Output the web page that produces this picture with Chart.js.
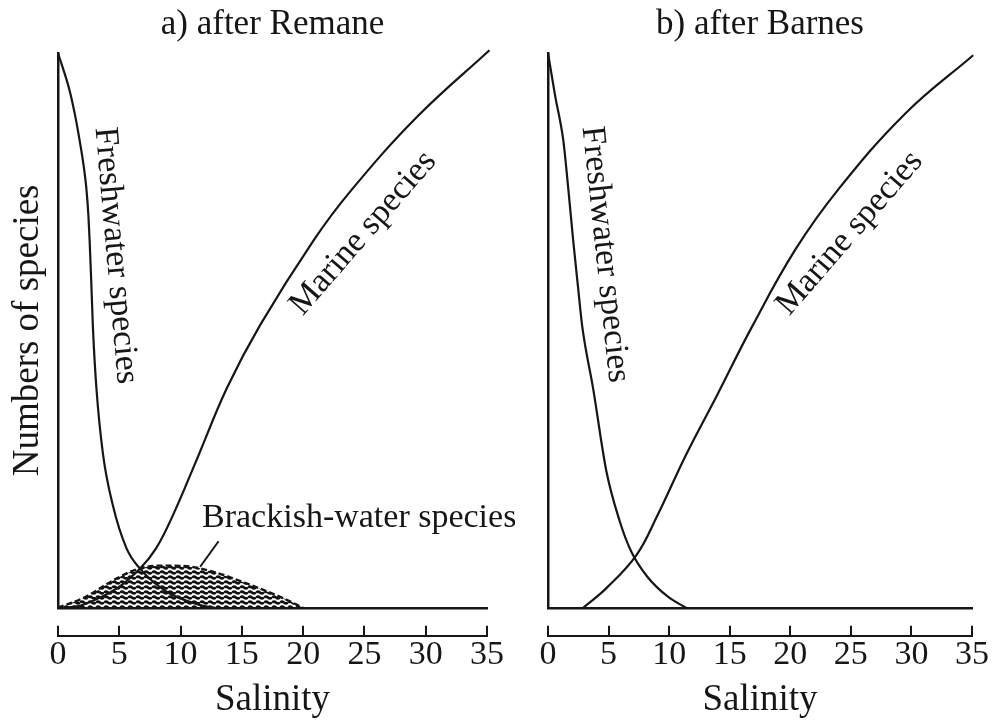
<!DOCTYPE html>
<html>
<head>
<meta charset="utf-8">
<script src="https://cdn.jsdelivr.net/npm/chart.js@4"></script>
<style>
  body { margin: 0; background: #fff; }
  #wrap { position: relative; width: 998px; height: 725px; }
  canvas { position: absolute; top: 0; }
  #chartA { left: 0; }
  #chartB { left: 490px; }
</style>
</head>
<body>
<div id="wrap">
  <canvas id="chartA" width="515" height="725"></canvas>
  <canvas id="chartB" width="508" height="725"></canvas>
</div>
<script>
// salinity axis
const salinityMin = 0;
const salinityMax = 35;
const salinityStep = 5;

// a) after Remane
const freshAX = [0, 0.94, 1.39, 1.76, 2.09, 2.33, 2.48, 2.58, 2.71, 2.85, 3.13, 3.67, 4.46, 5.59, 6.67, 8.86, 11.6, 12.8];
const freshAY = [100, 93.3, 88.8, 84.3, 79.7, 75.2, 70.7, 66.2, 59.0, 50.5, 39.7, 27.7, 18.6, 10.7, 7.1, 2.9, 0.5, 0];
const marineAX = [0.5, 2.0, 4.8, 6.7, 8.0, 9.4, 11.26, 13.8, 16.5, 20.84, 23.9, 29.3, 35.2];
const marineAY = [0, 0.5, 3.5, 7.1, 10.7, 16.8, 26.4, 39.7, 51, 66.2, 75.2, 88.5, 100.5];
const brackAX = [0, 2.0, 4.8, 6.5, 8.5, 10.5, 12.5, 15.5, 18.4, 20];
const brackAY = [0, 1.7, 5.3, 7.0, 7.6, 7.5, 6.6, 4.3, 1.7, 0];
const leaderAX = [11.6, 13.1];
const leaderAY = [7.4, 12.0];

// b) after Barnes
const freshBX = [0, 0.58, 1.26, 1.69, 2.08, 2.47, 2.84, 3.72, 4.82, 5.92, 6.88, 8.2, 9.9, 11.4];
const freshBY = [100, 92.4, 84.3, 75.2, 66.2, 58.0, 50.5, 39.6, 24.6, 15.6, 10.1, 5.6, 2.0, 0];
const marineBX = [2.9, 4.8, 7.3, 9.0, 11.4, 14.0, 16.8, 20.4, 24.0, 29.5, 35.1];
const marineBY = [0, 3.5, 9.5, 16.5, 27.6, 38.5, 50.5, 64.5, 75.5, 89.1, 99.6];

const INK = '#161616';
const SERIF = '"Liberation Serif", "Times New Roman", serif';
Chart.defaults.font.family = SERIF;
Chart.defaults.color = INK;

const pts = (xs, ys) => xs.map((v, i) => ({ x: v, y: ys[i] }));

// wavy hatch for the brackish-water area
function wavePattern(ctx) {
  const t = document.createElement('canvas');
  t.width = 8; t.height = 5;
  const c = t.getContext('2d');
  c.fillStyle = '#fff';
  c.fillRect(0, 0, 8, 5);
  c.strokeStyle = '#111';
  c.lineWidth = 2.5;
  c.beginPath();
  c.moveTo(0, 2.5);
  c.quadraticCurveTo(2, 0.8, 4, 2.5);
  c.quadraticCurveTo(6, 4.2, 8, 2.5);
  c.stroke();
  return ctx.createPattern(t, 'repeat');
}

// text written along the curves
const curveLabels = {
  id: 'curveLabels',
  afterDatasetsDraw(chart, args, opts) {
    const { ctx, scales } = chart;
    opts.items.forEach(it => {
      ctx.save();
      ctx.translate(scales.x.getPixelForValue(it.x), scales.y.getPixelForValue(it.y));
      ctx.rotate(it.rot * Math.PI / 180);
      ctx.font = '34px ' + SERIF;
      ctx.fillStyle = INK;
      ctx.textAlign = it.align || 'center';
      ctx.textBaseline = 'middle';
      ctx.fillText(it.text, 0, 0);
      ctx.restore();
    });
  }
};

function line(data, extra) {
  return Object.assign({
    data: data,
    borderColor: INK,
    borderWidth: 2.2,
    pointRadius: 0,
    fill: false,
    cubicInterpolationMode: 'monotone',
    clip: false
  }, extra || {});
}

// marine curves: plain bezier smoothing
const smooth = { cubicInterpolationMode: 'default', tension: 0.4 };

function makeChart(id, title, yTitle, datasets, labels, padRight) {
  const ctx = document.getElementById(id).getContext('2d');
  return new Chart(ctx, {
    type: 'line',
    data: { datasets: datasets(ctx) },
    plugins: [curveLabels],
    options: {
      responsive: false,
      animation: false,
      layout: { padding: { top: 0, left: 0, right: padRight, bottom: 3 } },
      scales: {
        x: {
          type: 'linear', position: 'bottom', weight: 0,
          min: salinityMin, max: salinityMax,
          ticks: { display: false },
          grid: { drawOnChartArea: false, drawTicks: true, tickLength: 28, color: 'rgba(0,0,0,0)' },
          border: { display: true, color: INK, width: 2.5 }
        },
        ruler: {
          type: 'linear', position: 'bottom', weight: 1,
          min: salinityMin, max: salinityMax,
          ticks: { stepSize: salinityStep, font: { size: 34 }, color: INK, padding: 9, maxRotation: 0, autoSkip: false },
          grid: { drawOnChartArea: false, drawTicks: true, tickLength: -10, color: INK, lineWidth: 2 },
          border: { display: true, color: INK, width: 2 },
          title: { display: true, text: 'Salinity', font: { size: 37 }, color: INK, padding: { top: -7, bottom: 0 } }
        },
        y: {
          min: 0, max: 100,
          ticks: { display: false },
          grid: { drawOnChartArea: false, drawTicks: false, color: 'rgba(0,0,0,0)' },
          border: { display: true, color: INK, width: 2.5 },
          title: { display: !!yTitle, text: yTitle, font: { size: 37 }, color: INK, padding: { top: 6, bottom: 0 } },
          afterFit: s => { s.width = 58; }
        }
      },
      plugins: {
        legend: { display: false },
        tooltip: { enabled: false },
        title: {
          display: true, text: title, fullSize: false,
          font: { size: 35, weight: 'normal' }, color: INK,
          padding: { top: 4, bottom: 7 }
        },
        curveLabels: { items: labels }
      }
    }
  });
}

makeChart('chartA', 'a) after Remane', 'Numbers of species', ctx => [
  line(pts(freshAX, freshAY), { label: 'Freshwater species' }),
  line(pts(marineAX, marineAY), Object.assign({ label: 'Marine species' }, smooth)),
  line(pts(leaderAX, leaderAY), { label: 'leader', borderWidth: 2, cubicInterpolationMode: 'default', tension: 0 }),
  line(pts(brackAX, brackAY), {
    label: 'Brackish-water species', order: 2, borderDash: [6, 3], borderWidth: 2.4,
    fill: 'origin', backgroundColor: wavePattern(ctx)
  })
], [
  { text: 'Freshwater species', x: 4.7, y: 63.5, rot: 85 },
  { text: 'Marine species', x: 24.9, y: 67.5, rot: -49 },
  { text: 'Brackish-water species', x: 11.75, y: 16.1, rot: 0, align: 'left' }
], 28);

makeChart('chartB', 'b) after Barnes', '', ctx => [
  line(pts(freshBX, freshBY), { label: 'Freshwater species' }),
  line(pts(marineBX, marineBY), Object.assign({ label: 'Marine species' }, smooth))
], [
  { text: 'Freshwater species', x: 4.7, y: 63.7, rot: 84 },
  { text: 'Marine species', x: 24.9, y: 67.5, rot: -49 }
], 21);
</script>
</body>
</html>
